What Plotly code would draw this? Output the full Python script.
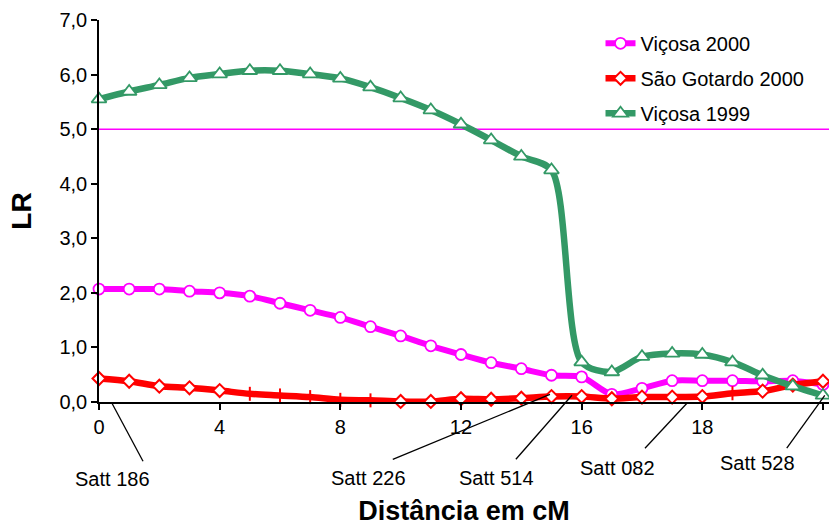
import plotly.graph_objects as go

# Map positions (cM) - category axis of the original chart
cm = [0, 1, 2, 3, 4, 5, 6, 7, 8, 9, 10, 11, 12, 13, 14, 15, 16,
      16.5, 17, 17.5, 18, 19, 20, 21, 22]
tick_cm = [0, 4, 8, 12, 16, 18, 22]

vicosa_2000 = [2.07, 2.07, 2.07, 2.03, 2.00, 1.94, 1.81, 1.68, 1.55, 1.38, 1.21, 1.03, 0.87,
               0.72, 0.61, 0.49, 0.46, 0.14, 0.25, 0.39, 0.39, 0.39, 0.38, 0.39, 0.32]
sao_gotardo_2000 = [0.43, 0.38, 0.29, 0.26, 0.21, 0.15, 0.12, 0.09, 0.04, 0.03, 0.01, 0.01, 0.06,
                    0.05, 0.07, 0.10, 0.10, 0.06, 0.09, 0.09, 0.10, 0.16, 0.20, 0.31, 0.38]
vicosa_1999 = [5.55, 5.69, 5.81, 5.94, 6.01, 6.07, 6.07, 6.01, 5.93, 5.77, 5.57, 5.35, 5.09,
               4.80, 4.50, 4.25, 0.73, 0.55, 0.83, 0.89, 0.87, 0.73, 0.49, 0.29, 0.12]
# points of São Gotardo 2000 drawn with a tick instead of a diamond
sg_tick_points = [5, 6, 7, 8, 9, 21]

threshold = 5.0
y_ticks = [0, 1, 2, 3, 4, 5, 6, 7]

markers = ["Satt 186", "Satt 226", "Satt 514", "Satt 082", "Satt 528"]
marker_pos = [0.43, 14.95, 15.68, 19.49, 24.06]      # position index pointed at
label_pos = [0.46, 8.92, 13.19, 17.2, 21.84]         # label centre (position index)

pos = list(range(len(cm)))
FONT = "Liberation Sans, Arial, sans-serif"
PINK = "#FF00FF"
RED = "#FF0000"
GREEN = "#339966"

fig = go.Figure()

fig.add_trace(go.Scatter(
    x=pos, y=vicosa_2000, name="Viçosa 2000", mode="lines+markers",
    line=dict(color=PINK, width=6, shape="spline", smoothing=0.8),
    marker=dict(symbol="circle", size=11, color="white", line=dict(color=PINK, width=1.8)),
    cliponaxis=False, legendgroup="a"))

sg_symbols = ["line-ns" if i in sg_tick_points else "diamond" for i in pos]
fig.add_trace(go.Scatter(
    x=pos, y=sao_gotardo_2000, name="São Gotardo 2000", mode="lines+markers",
    line=dict(color=RED, width=6.5, shape="spline", smoothing=0.8),
    marker=dict(symbol=sg_symbols, size=10, color="white", line=dict(color=RED, width=2)),
    cliponaxis=False, legendgroup="b"))

fig.add_trace(go.Scatter(
    x=pos, y=vicosa_1999, name="Viçosa 1999", mode="lines+markers",
    line=dict(color=GREEN, width=6.5, shape="spline", smoothing=0.8),
    marker=dict(symbol="triangle-up", size=13, color="white", line=dict(color=GREEN, width=1.8)),
    cliponaxis=False, legendgroup="c"))

# threshold line
fig.add_shape(type="line", xref="paper", yref="y", x0=0, x1=1, y0=threshold, y1=threshold,
              line=dict(color=PINK, width=1.5), layer="below")

# marker pointer lines and labels
line_top = [-0.0034, 0.020, 0.0176, -0.0034, 0.0176]
line_bot_x = [1.46, 9.74, 13.82, 18.10, 22.80]
line_bot = [-0.155, -0.150, -0.150, -0.121, -0.121]
label_y = [-0.2025, -0.2, -0.2, -0.1737, -0.1606]
for name, mp, lp, lt, lbx, lb, ly in zip(markers, marker_pos, label_pos, line_top,
                                         line_bot_x, line_bot, label_y):
    fig.add_shape(type="line", xref="x", yref="paper", x0=mp, y0=lt, x1=lbx, y1=lb,
                  line=dict(color="black", width=1.3))
    fig.add_annotation(text=name, xref="x", yref="paper", x=lp, y=ly, showarrow=False,
                       xanchor="center", yanchor="middle",
                       font=dict(family=FONT, size=20, color="black"))

tickvals = [pos[cm.index(t)] for t in tick_cm]
fig.update_xaxes(
    range=[0, 24.2], tickmode="array", tickvals=tickvals, ticktext=[str(t) for t in tick_cm],
    showline=True, linecolor="black", linewidth=1.5, ticks="outside", ticklen=6,
    tickcolor="black", tickwidth=1.5, showgrid=False, zeroline=False,
    tickfont=dict(family=FONT, size=20, color="black"),
    title=dict(text="<b>Distância em cM</b>", font=dict(family=FONT, size=27, color="black"),
               standoff=72),
    automargin=False)
fig.update_yaxes(
    range=[0, 7], tickmode="array", tickvals=y_ticks,
    ticktext=[f"{v:.1f}".replace(".", ",") for v in y_ticks],
    showline=True, linecolor="black", linewidth=1.5, ticks="outside", ticklen=6,
    tickcolor="black", tickwidth=1.5, showgrid=False, zeroline=False,
    tickfont=dict(family=FONT, size=20, color="black"),
    title=dict(text="<b>LR</b>", font=dict(family=FONT, size=28, color="black"), standoff=20),
    automargin=False)

fig.update_layout(
    width=829, height=526,
    margin=dict(l=99, r=0, t=20, b=124, pad=0),
    paper_bgcolor="white", plot_bgcolor="white",
    showlegend=True,
    legend=dict(x=0.687, y=0.99, xanchor="left", yanchor="top", bgcolor="rgba(0,0,0,0)",
                font=dict(family=FONT, size=20, color="black"), tracegroupgap=6,
                borderwidth=0),
)

fig.write_html("out.html")
